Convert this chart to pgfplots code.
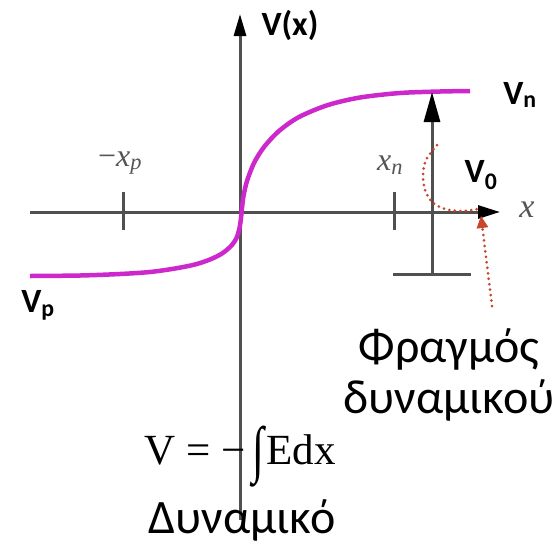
\documentclass[border=0pt]{standalone}
\usepackage{pgfplots}
\pgfplotsset{compat=1.18}
\usepackage{fontspec}
\setmainfont{Carlito}
\newfontfamily\tnr{Liberation Serif}
\usetikzlibrary{arrows.meta}
\definecolor{mag}{RGB}{204,40,204}
\definecolor{dotred}{RGB}{200,70,45}
\definecolor{axgray}{RGB}{80,80,80}
\definecolor{lblgray}{RGB}{85,85,85}
\begin{document}
\begin{tikzpicture}
\begin{axis}[scale only axis, width=560pt, height=550pt,
  xmin=0, xmax=560, ymin=0, ymax=550, y dir=reverse,
  axis lines=none, clip=false]
\path (axis cs:0,0) rectangle (axis cs:560,550);
% horizontal axis
\addplot[axgray, line width=3pt, -{Triangle[length=22pt,width=13pt,black]}] coordinates {(30,212) (500,212)};
% vertical axis
\addplot[axgray, line width=3pt, -{Triangle[length=22pt,width=12pt,black]}] coordinates {(240,520) (240,14)};
% ticks
\addplot[axgray, line width=3pt] coordinates {(123,192) (123,230)};
\addplot[axgray, line width=3pt] coordinates {(394,192) (394,230)};
% potential curve
\addplot[mag, line width=4.5pt, smooth, tension=0.5] coordinates {
(30,276) (80,275.5) (120,274) (150,272) (175,268.5) (195,264.5) (210,259.5)
(222,253.5) (231,246) (236.5,238) (239.5,228) (241,218) (242,208) (243.5,196)
(247,181) (254,163) (264,147) (279,131) (299,117) (328,105) (360,97.5)
(400,93) (440,91.5) (470,91)};
% barrier arrow
\addplot[axgray, line width=3pt] coordinates {(393,274) (471,274)};
\addplot[axgray, line width=3pt, -{Triangle[length=30pt,width=16pt,black]}] coordinates {(432,274) (432,92)};
% dotted curve
\addplot[dotred, line width=3pt, line cap=round, dash pattern=on 0pt off 5.5pt, smooth] coordinates {
(437,145) (426,160) (423,175) (425,190) (432,202) (445,209) (462,211) (478,209)};
\addplot[dotred, line width=3pt, line cap=round, dash pattern=on 0pt off 5.5pt,
  -{Triangle[length=12pt,width=12pt,dotred,line width=0pt,sep=0pt]}] coordinates {(492,306) (481,216)};
% labels
\node[font=\fontsize{34}{36}\selectfont\bfseries, anchor=west] at (axis cs:258,25) {V(x)};
\node[font=\fontsize{34}{36}\selectfont\bfseries] at (axis cs:520,95) {V\textsubscript{n}};
\node[font=\fontsize{34}{36}\selectfont\bfseries] at (axis cs:481,175) {V\textsubscript{0}};
\node[font=\fontsize{34}{36}\selectfont\bfseries] at (axis cs:38,305) {V\textsubscript{p}};
\node[text=lblgray, font=\fontsize{32}{34}\selectfont\tnr\itshape] at (axis cs:120,163) {{\upshape −}x\textsubscript{p}};
\node[text=lblgray, font=\fontsize{32}{34}\selectfont\tnr\itshape] at (axis cs:390,165) {x\textsubscript{n}};
\node[text=lblgray, font=\fontsize{34}{36}\selectfont\tnr\itshape] at (axis cs:527,210) {x};
\node[font=\fontsize{48}{51}\selectfont, align=center] at (axis cs:449,375) {Φραγμός\\δυναμικού};
\node[font=\fontsize{43}{46}\selectfont\tnr] at (axis cs:240,457) {V = −\hspace{7pt}\raisebox{-6pt}{\scalebox{1}[1.45]{∫}}\hspace{2pt}Edx};
\node[font=\fontsize{48}{51}\selectfont] at (axis cs:242,520) {Δυναμικό};
\end{axis}
\end{tikzpicture}
\end{document}
